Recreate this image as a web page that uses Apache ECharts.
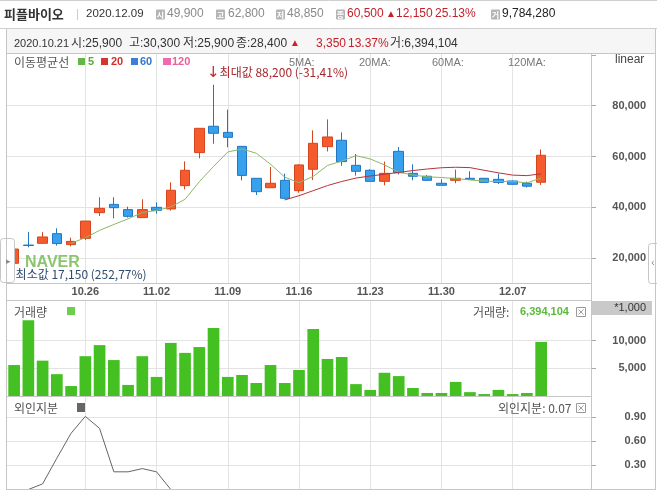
<!DOCTYPE html>
<html>
<head>
<meta charset="utf-8">
<script src="https://cdn.jsdelivr.net/npm/echarts@6/dist/echarts.min.js"></script>
<style>
html,body{margin:0;padding:0;background:#fff;}
#chart{width:657px;height:494px;}
</style>
</head>
<body>
<div id="chart"></div>
<script>
/* 일봉 데이터 (10.19 ~ 12.09) */
const dates = ['10.19','10.20','10.21','10.22','10.23','10.26','10.27','10.28','10.29','10.30',
    '11.02','11.03','11.04','11.05','11.06','11.09','11.10','11.11','11.12','11.13',
    '11.16','11.17','11.18','11.19','11.20','11.23','11.24','11.25','11.26','11.27',
    '11.30','12.01','12.02','12.03','12.04','12.07','12.08','12.09'];
const weekLabels = ['10.26','11.02','11.09','11.16','11.23','11.30','12.07'];

const opens  = [18050,25200,25900,29700,25400,27850,37950,41200,39150,36000,
    40050,39400,48550,61550,71900,69500,64000,51450,47750,50650,
    46600,55000,63900,66400,56550,54600,50250,62050,53400,52250,
    49500,50650,51450,51450,51050,50400,49500,49900];
const closes = [23650,25050,28400,25800,26650,34650,39650,39900,36500,39150,
    38850,46750,54600,71100,69150,67550,52600,46200,49500,43600,
    56700,65200,67700,58000,54200,50250,53400,53650,52250,50650,
    48700,51450,51050,49850,49850,49100,48350,60500];
const lows   = [17150,24300,25900,25000,24700,27200,36650,35700,36000,36000,
    37550,38750,47100,59300,65050,63650,50650,44900,47750,43200,
    45800,50800,62000,56400,52500,50000,48700,53000,50650,50400,
    48700,49500,51050,49600,49200,48900,47800,48850];
const highs  = [23800,30400,30300,31800,28100,34700,44000,44000,40300,43200,
    42000,49850,58100,71100,88200,78450,64050,51450,55900,53300,
    57000,70300,74600,69500,61000,55000,58000,63750,56950,52700,
    51050,54850,54200,51600,53300,50600,50150,62800];

/* 이동평균선 */
const ma5 = [null,null,null,null,25900,28100,31000,33300,35500,38000,
    38800,40200,43200,50100,56100,61800,63000,61300,57000,51900,
    49700,52200,56500,58200,60350,59050,56700,53900,52750,52050,
    51750,51350,50800,50350,50200,50250,49650,51550];
const ma20 = [null,null,null,null,null,null,null,null,null,null,
    null,null,null,null,null,null,null,null,null,42950,
    44600,46600,48600,50200,51550,52350,53050,53750,54500,55100,
    55600,55800,55650,54600,53600,52700,52500,53200];

/* 거래량 (*1,000) */
const volume = [5600,13700,6394,3950,1800,7200,9200,6500,2000,7200,
    3450,9600,7800,8850,12300,3450,3800,2350,5600,2350,
    4700,12100,6700,7050,2150,1100,4200,3600,1450,550,
    550,2550,700,350,1100,350,550,9784];

/* 외인지분 */
const foreign = [0,0,0.07,0.39,0.70,0.91,0.76,0.22,0.22,0.26,
    0.22,0,0,0,0,0,0,0,0,0,
    0,0,0,0,0,0,0,0,0,0,
    0,0,0,0,0,0,0,0];

const priceTicks = [20000,40000,60000,80000];
const volumeTicks = [5000,10000];
const foreignTicks = [0.3,0.6,0.9];

/* 색상 */
const upFill = '#f65b2e', upLine = '#d4461e';
const downFill = '#37a1ee', downLine = '#2276c4';
const gridColor = '#e3e3e3', frameColor = '#c6c6c6';
const fNum = '"Liberation Sans", "Noto Sans CJK KR", sans-serif';
const fKr = '"Noto Sans CJK KR", "DejaVu Sans", sans-serif';
const fAx = '"Liberation Sans", "Noto Sans CJK KR", sans-serif';

const comma = v => String(v).replace(/\B(?=(\d{3})+(?!\d))/g, ',');

const candleData = dates.map((d, i) => [opens[i], closes[i], lows[i], highs[i]]);
const maxHigh = Math.max.apply(null, highs);
const minLow = Math.min.apply(null, lows);
const lastClose = closes[closes.length - 1];
const maxIdx = highs.indexOf(maxHigh), minIdx = lows.indexOf(minLow);
const pct = v => v.toFixed(2).replace('.', ',');

/* 그래픽 헬퍼 */
function txt(text, x, y, fill, size, weight, family, align) {
    return {type: 'text', x: x, y: y, z: 50, silent: true,
        style: {text: text, fill: fill, font: (weight || 'normal') + ' ' + size + 'px ' + (family || fNum),
            verticalAlign: 'middle', align: align || 'left'}};
}
function rect(x, y, w, h, fill, stroke, r) {
    return {type: 'rect', z: 40, silent: true, shape: {x: x, y: y, width: w, height: h, r: r || 0},
        style: {fill: fill, stroke: stroke || null, lineWidth: 1}};
}
function line(x1, y1, x2, y2, stroke) {
    return {type: 'line', z: 45, silent: true, shape: {x1: x1, y1: y1, x2: x2, y2: y2},
        style: {stroke: stroke || frameColor, lineWidth: 1}};
}
function icon(ch, x) {
    return [rect(x, 9.5, 9, 10, '#b4b4b4', null, 1), txt(ch, x + 4.5, 14.5, '#fff', 8, 'bold', fKr, 'center')];
}
function closeBox(x, y) {
    return [rect(x + 0.5, y + 0.5, 9, 9, '#fff', '#9a9a9a'),
        line(x + 2.5, y + 2.5, x + 7.5, y + 7.5, '#9a9a9a'), line(x + 7.5, y + 2.5, x + 2.5, y + 7.5, '#9a9a9a')];
}

const graphics = [].concat(
    [line(0, 0.5, 657, 0.5, '#cfcfcf'), line(0, 28.5, 657, 28.5, '#cfcfcf'),
     rect(7, 29, 648, 24, '#f6f6f6'),
     txt('피플바이오', 4, 14, '#333', 13, 'bold', fKr),
     line(77.5, 9, 77.5, 20, '#cccccc'),
     txt('2020.12.09', 86, 14, '#333', 11.5, 'normal', fAx)],
    icon('시', 156), [txt('49,900', 167, 14, '#8a8a8a', 12)],
    icon('고', 216), [txt('62,800', 228, 14, '#8a8a8a', 12)],
    icon('저', 276), [txt('48,850', 287, 14, '#8a8a8a', 12)],
    icon('종', 336), [txt('60,500', 347, 14, '#c4202a', 12), txt('▲', 386, 14, '#c4202a', 10),
        txt('12,150', 396, 14, '#c4202a', 12), txt('25.13%', 435, 14, '#c4202a', 12)],
    icon('거', 491), [txt('9,784,280', 502, 14, '#222', 12)],
    [
     /* 정보 줄 */
     txt('2020.10.21', 14, 43.5, '#333', 11, 'normal', fAx),
     txt('시:25,900', 71, 43.5, '#333', 12),
     txt('고:30,300', 129, 43.5, '#333', 12),
     txt('저:25,900', 183, 43.5, '#333', 12),
     txt('종:28,400', 236, 43.5, '#333', 12),
     txt('▲', 290, 43.5, '#d0202a', 10),
     txt('3,350', 316, 43.5, '#c4202a', 12),
     txt('13.37%', 348, 43.5, '#c4202a', 12),
     txt('거:6,394,104', 390, 43.5, '#333', 12),
     /* 이동평균선 범례 */
     txt('이동평균선', 14, 62, '#555', 12, 'normal', fKr),
     rect(78, 58, 7, 7, '#66b546'), txt('5', 88, 62, '#5aa83a', 11, 'bold', fAx),
     rect(101, 58, 7, 7, '#d8342f'), txt('20', 111, 62, '#d0302b', 11, 'bold', fAx),
     rect(131, 58, 7, 7, '#3b7fd6'), txt('60', 140, 62, '#3377cc', 11, 'bold', fAx),
     rect(163, 58, 8, 7, '#f06ab0'), txt('120', 172, 62, '#e8609f', 11, 'bold', fAx),
     txt('5MA:', 289, 63, '#777', 11, 'normal', fAx),
     txt('20MA:', 359, 63, '#777', 11, 'normal', fAx),
     txt('60MA:', 432, 63, '#777', 11, 'normal', fAx),
     txt('120MA:', 508, 63, '#777', 11, 'normal', fAx),
     txt('linear', 615, 60, '#444', 12, 'normal', fAx),
     /* 거래량 패널 */
     txt('거래량', 14, 312, '#555', 12, 'normal', fKr),
     rect(67, 307, 8, 8, '#6ccf4f'),
     txt('거래량:', 473, 312, '#555', 12, 'normal', fKr),
     txt('6,394,104', 520, 312, '#5bb93a', 11, 'bold', fAx),
     rect(591, 301, 61, 14, '#c9c9c9'),
     txt('*1,000', 646, 308, '#333', 11, 'normal', fAx, 'right'),
     /* 외인지분 패널 */
     txt('외인지분', 14, 408, '#555', 12, 'normal', fKr),
     rect(77, 403, 8, 9, '#666'),
     txt('외인지분: 0.07', 498, 408, '#555', 12, 'normal', fKr),
     /* 테두리 */
     line(7, 53.5, 655, 53.5), line(6.5, 29, 6.5, 490), line(655.5, 29, 655.5, 490),
     line(591.5, 53, 591.5, 490), line(7, 283.5, 591, 283.5), line(7, 300.5, 591, 300.5),
     line(7, 396.5, 591, 396.5), line(7, 489.5, 655, 489.5),
     /* NAVER */
     txt('NAVER', 25, 263, '#8cc56f', 16, '900', fAx),
     /* 접기 버튼 */
     rect(0.5, 238.5, 14, 44, '#fff', frameColor, 3), txt('▸', 8, 262, '#888', 9, 'normal', fNum, 'center'),
     rect(648.5, 243.5, 12, 40, '#fff', frameColor, 3), txt('‹', 653, 263, '#888', 10, 'normal', fNum, 'center')
    ],
    closeBox(576, 307), closeBox(576, 403)
);

const gridTops = [53, 301, 397];
const gridHeights = [230, 95, 92.5];

const xAxes = gridTops.map((t, gi) => ({
    type: 'category', gridIndex: gi, data: dates, max: 40, boundaryGap: true,
    axisLine: {show: false}, axisTick: {show: false},
    axisLabel: {show: gi === 0, interval: (i, v) => weekLabels.indexOf(v) >= 0, margin: 3,
        color: '#555', fontFamily: 'Liberation Sans', fontWeight: 'bold', fontSize: 11},
    splitLine: {show: true, alignWithLabel: true, interval: (i, v) => weekLabels.indexOf(v) >= 0,
        lineStyle: {color: gridColor}}
}));

const yLabel = {margin: 55, align: 'right', color: '#555', fontFamily: 'Liberation Sans',
    fontWeight: 'bold', fontSize: 11, showMinLabel: false, showMaxLabel: false};
const yTick = {show: true, length: 5, lineStyle: {color: '#aaa'}};

const chart = echarts.init(document.getElementById('chart'), null, {renderer: 'canvas'});
chart.setOption({
    animation: false,
    backgroundColor: '#fff',
    grid: gridTops.map((t, i) => ({left: 7, right: 66, top: t, height: gridHeights[i], show: false})),
    xAxis: xAxes,
    yAxis: [
        {type: 'value', gridIndex: 0, position: 'right', min: 10300, max: 100700, splitNumber: 5,
         axisLine: {show: false}, axisTick: yTick,
         axisLabel: Object.assign({}, yLabel, {formatter: v => priceTicks.indexOf(v) >= 0 ? comma(v) : ''}),
         splitLine: {show: true, showMinLine: false, showMaxLine: false,
             lineStyle: {color: [gridColor, gridColor, gridColor, gridColor, 'rgba(0,0,0,0)']}}},
        {type: 'value', gridIndex: 1, position: 'right', min: 0, max: 17180, interval: 5000,
         axisLine: {show: false}, axisTick: yTick,
         axisLabel: Object.assign({}, yLabel, {formatter: v => volumeTicks.indexOf(v) >= 0 ? comma(v) : ''}),
         splitLine: {show: true, showMinLine: false, showMaxLine: false,
             lineStyle: {color: [gridColor, gridColor, 'rgba(0,0,0,0)']}}},
        {type: 'value', gridIndex: 2, position: 'right', min: 0, max: 1.151, interval: 0.3,
         axisLine: {show: false}, axisTick: yTick,
         axisLabel: Object.assign({}, yLabel, {formatter: v => foreignTicks.some(t => Math.abs(t - v) < 1e-6) ? v.toFixed(2) : ''}),
         splitLine: {show: true, showMinLine: false, showMaxLine: false, lineStyle: {color: gridColor}}}
    ],
    graphic: graphics,
    series: [
        {type: 'candlestick', xAxisIndex: 0, yAxisIndex: 0, data: candleData, barWidth: 10,
         itemStyle: {color: upFill, color0: downFill, borderColor: upLine, borderColor0: downLine, borderWidth: 1},
         markPoint: {
             symbol: 'circle', symbolSize: 1, itemStyle: {color: 'rgba(0,0,0,0)'},
             data: [
                 {coord: [dates[maxIdx], maxHigh], label: {show: true, position: [-6, -19],
                     formatter: '{a|↓}{b|최대값 ' + comma(maxHigh) + ' (' + pct((lastClose - maxHigh) / maxHigh * 100) + '%)}',
                     rich: {a: {color: '#d42020', fontSize: 15, fontFamily: 'DejaVu Sans'},
                            b: {color: '#a8282c', fontSize: 12, fontFamily: 'Noto Sans CJK KR'}}}},
                 {coord: [dates[minIdx], minLow], label: {show: true, position: [2, 3],
                     formatter: '최소값 ' + comma(minLow) + ' (' + pct((lastClose - minLow) / minLow * 100) + '%)',
                     color: '#2f4c6e', fontSize: 12, fontFamily: 'Noto Sans CJK KR'}}
             ]
         }},
        {type: 'line', xAxisIndex: 0, yAxisIndex: 0, data: ma5, symbol: 'none', z: 3,
         lineStyle: {color: '#8cb865', width: 1}},
        {type: 'line', xAxisIndex: 0, yAxisIndex: 0, data: ma20, symbol: 'none', z: 3,
         lineStyle: {color: '#b8323a', width: 1}},
        {type: 'bar', xAxisIndex: 1, yAxisIndex: 1, data: volume, barCategoryGap: '18%',
         itemStyle: {color: '#45c023'}},
        {type: 'line', xAxisIndex: 2, yAxisIndex: 2, data: foreign, symbol: 'none', clip: false,
         lineStyle: {color: '#666', width: 1}}
    ]
});
</script>
</body>
</html>
